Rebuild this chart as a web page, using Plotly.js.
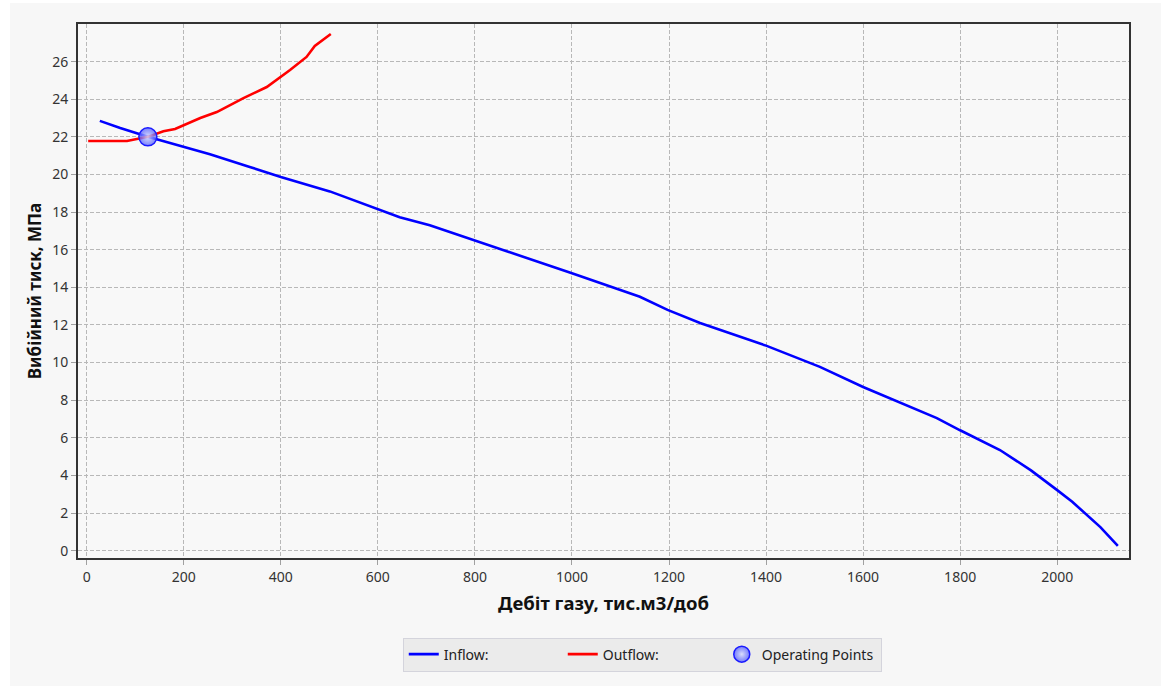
<!DOCTYPE html>
<html>
<head>
<meta charset="utf-8">
<script src="https://cdn.plot.ly/plotly-3.0.1.min.js"></script>
<style>
  html, body { margin: 0; padding: 0; background: #ffffff; }
  #chart { position: absolute; left: 10px; top: 3px; width: 1151px; height: 683px; }
</style>
</head>
<body>
<div id="chart"></div>
<script>
// Inflow performance curve (gas rate, thous. m3/day vs. bottomhole pressure, MPa)
const inflowRate = [27, 69, 126, 200, 254, 336, 400, 501, 600, 645, 707, 800, 1000, 1140, 1197, 1264, 1400, 1511, 1600, 1752, 1800, 1882, 1946, 2000, 2031, 2089, 2125];
const inflowPressure = [22.85, 22.47, 22.0, 21.45, 21.08, 20.4, 19.86, 19.1, 18.15, 17.73, 17.3, 16.5, 14.75, 13.5, 12.8, 12.1, 10.9, 9.77, 8.7, 7.05, 6.4, 5.35, 4.27, 3.22, 2.6, 1.25, 0.25];

// Outflow (tubing) curve
const outflowRate = [3, 40, 83, 126, 158, 182, 234, 268, 323, 371, 419, 453, 470, 503];
const outflowPressure = [21.78, 21.78, 21.78, 22.0, 22.3, 22.42, 23.0, 23.32, 24.06, 24.65, 25.55, 26.25, 26.83, 27.47];

// Intersection of the two curves
const opRate = [126];
const opPressure = [22.0];

const tickFont = { family: 'Noto Sans, Open Sans, sans-serif', size: 14, color: '#333333' };
const yTitleFont = { family: 'Noto Sans, Open Sans, sans-serif', size: 17, color: '#111111', weight: 'bold' };
const xTitleFont = { family: 'Noto Sans, Open Sans, sans-serif', size: 18.5, color: '#111111', weight: 'bold' };

const traces = [
  {
    x: inflowRate, y: inflowPressure, type: 'scatter', mode: 'lines',
    name: 'Inflow:', line: { color: '#0000ff', width: 2.6 }
  },
  {
    x: outflowRate, y: outflowPressure, type: 'scatter', mode: 'lines',
    name: 'Outflow:', line: { color: '#ff0000', width: 2.6 }
  },
  {
    x: opRate, y: opPressure, type: 'scatter', mode: 'markers',
    name: 'Operating Points',
    marker: {
      size: 18, color: 'rgba(80,90,255,0.75)',
      gradient: { type: 'radial', color: 'rgba(215,220,255,0.85)' },
      line: { color: '#1a1aff', width: 1.5 }
    }
  }
];

const axisCommon = {
  showline: true, mirror: true, linecolor: '#333333', linewidth: 2,
  showgrid: true, gridcolor: '#b8b8b8', gridwidth: 1, griddash: '4px,2px',
  zeroline: false, ticks: 'outside', ticklen: 5, tickcolor: '#a0a0a0',
  tickfont: tickFont
};

const layout = {
  width: 1151, height: 683,
  paper_bgcolor: '#f7f7f7', plot_bgcolor: '#f8f8f8',
  margin: { l: 68, r: 32, t: 21, b: 128 },
  xaxis: Object.assign({}, axisCommon, {
    range: [-18, 2148], tickvals: [0, 200, 400, 600, 800, 1000, 1200, 1400, 1600, 1800, 2000],
    title: { text: 'Дебіт газу, тис.м3/доб', font: xTitleFont, standoff: 12 }
  }),
  yaxis: Object.assign({}, axisCommon, {
    range: [-0.39, 28.0], tickvals: [0, 2, 4, 6, 8, 10, 12, 14, 16, 18, 20, 22, 24, 26],
    title: { text: 'Вибійний тиск, МПа', font: yTitleFont, standoff: 6 }
  }),
  showlegend: true,
  legend: {
    orientation: 'h', x: 0.309, xanchor: 'left', y: -0.149, yanchor: 'top',
    bgcolor: '#ebebeb', bordercolor: '#d4d4dc', borderwidth: 1,
    font: { family: 'Noto Sans, Open Sans, sans-serif', size: 14, color: '#222222' },
    entrywidth: 114, entrywidthmode: 'pixels', itemwidth: 30
  }
};

Plotly.newPlot('chart', traces, layout, { displayModeBar: false, staticPlot: true });
</script>
</body>
</html>
